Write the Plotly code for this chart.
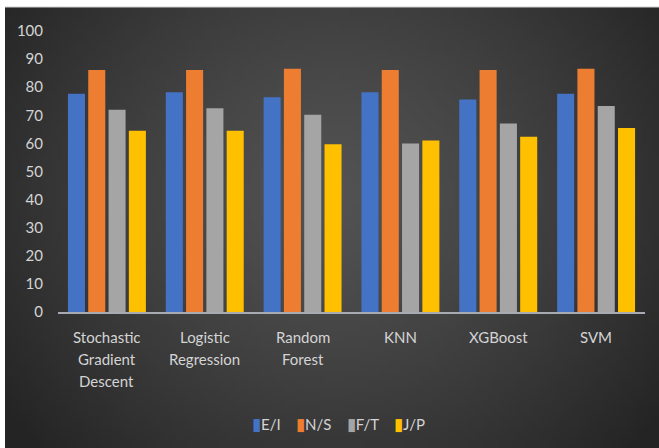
import base64
import struct
import zlib

import plotly.graph_objects as go

# ---------------- data ----------------
categories = ["Stochastic Gradient Descent", "Logistic Regression", "Random Forest",
              "KNN", "XGBoost", "SVM"]
category_lines = [["Stochastic", "Gradient", "Descent"], ["Logistic", "Regression"],
                  ["Random", "Forest"], ["KNN"], ["XGBoost"], ["SVM"]]
series_names = ["E/I", "N/S", "F/T", "J/P"]
ei = [77.7, 78.2, 76.4, 78.2, 75.6, 77.7]
ns = [86.1, 86.1, 86.6, 86.1, 86.1, 86.6]
ft = [72.0, 72.5, 70.2, 60.0, 67.1, 73.3]
jp = [64.5, 64.5, 59.7, 61.0, 62.4, 65.5]
y_ticks = [0, 10, 20, 30, 40, 50, 60, 70, 80, 90, 100]

colors = ["#4472C4", "#ED7D31", "#A5A5A5", "#FFC000"]
series_values = [ei, ns, ft, jp]

# ---------------- background gradient image ----------------
def make_png(w, h):
    rows = []
    cx, cy = 0.5 * w, 0.42 * h
    for j in range(h):
        row = bytearray([0])
        for i in range(w):
            dx = (i - cx) / (0.62 * w)
            dy = (j - cy) / (0.85 * h)
            d = min(1.0, (dx * dx + dy * dy) ** 0.5)
            c0, c1 = 82, 36
            v = int(round(c0 + (c1 - c0) * d ** 1.3))
            row += bytes([v, v, v])
        rows.append(bytes(row))
    raw = b"".join(rows)

    def chunk(t, data):
        c = struct.pack(">I", len(data)) + t + data
        return c + struct.pack(">I", zlib.crc32(t + data) & 0xFFFFFFFF)

    png = b"\x89PNG\r\n\x1a\n"
    png += chunk(b"IHDR", struct.pack(">IIBBBBB", w, h, 8, 2, 0, 0, 0))
    png += chunk(b"IDAT", zlib.compress(raw, 9))
    png += chunk(b"IEND", b"")
    return "data:image/png;base64," + base64.b64encode(png).decode()

bg_src = make_png(132, 88)

# ---------------- figure ----------------
W, H = 659, 448
ML, MR, MT, MB = 58, 14, 31, 136
PW, PH = W - ML - MR, H - MT - MB

def px_x(x):
    return (x - ML) / PW

def px_y(y):
    return (H - MB - y) / PH

fig = go.Figure()
for name, vals, col in zip(series_names, series_values, colors):
    fig.add_trace(go.Bar(x=categories, y=vals, name=name, marker=dict(color=col, line=dict(width=0))))

text_color = "#d4d4d4"
font_family = "Lato, 'Open Sans', sans-serif"

annotations = []
for cat, lines in zip(categories, category_lines):
    for k, line in enumerate(lines):
        annotations.append(dict(x=cat, xref="x", y=0, yref="y", text=line, showarrow=False,
                                yanchor="middle", yshift=-25 - 22 * k,
                                font=dict(family=font_family, size=15, color=text_color)))

legend_parts = []
for name, col in zip(series_names, colors):
    legend_parts.append(f'<span style="color:{col};font-size:17px">▮</span>{name}')
legend_text = "&nbsp;&nbsp;&nbsp;&nbsp;".join(legend_parts)
annotations.append(dict(x=px_x(338), xref="paper", y=px_y(423), yref="paper", text=legend_text,
                        showarrow=False, xanchor="center", yanchor="middle",
                        font=dict(family=font_family, size=15, color=text_color)))

fig.update_layout(
    width=W, height=H,
    margin=dict(l=ML, r=MR, t=MT, b=MB, pad=0),
    paper_bgcolor="#ffffff",
    plot_bgcolor="rgba(0,0,0,0)",
    barmode="group",
    bargap=0.17,
    bargroupgap=0.16,
    showlegend=False,
    annotations=annotations,
    images=[dict(source=bg_src, xref="paper", yref="paper",
                 x=px_x(5), y=px_y(7), sizex=(W - 5) / PW, sizey=(H - 7) / PH,
                 xanchor="left", yanchor="top", sizing="stretch", layer="below")],
    shapes=[dict(type="line", xref="paper", yref="paper", x0=px_x(5), x1=px_x(W),
                 y0=px_y(7), y1=px_y(7), line=dict(color="#cfcfcf", width=1))],
    xaxis=dict(showticklabels=False, showgrid=False, zeroline=False, ticks="",
               showline=True, linecolor="#a8acb2", linewidth=2),
    yaxis=dict(range=[0, 100], tickvals=y_ticks, showgrid=False, zeroline=False,
               showline=False, ticks="", ticklabelstandoff=14,
               tickfont=dict(family=font_family, size=15, color=text_color)),
)

fig.write_html("out.html")
